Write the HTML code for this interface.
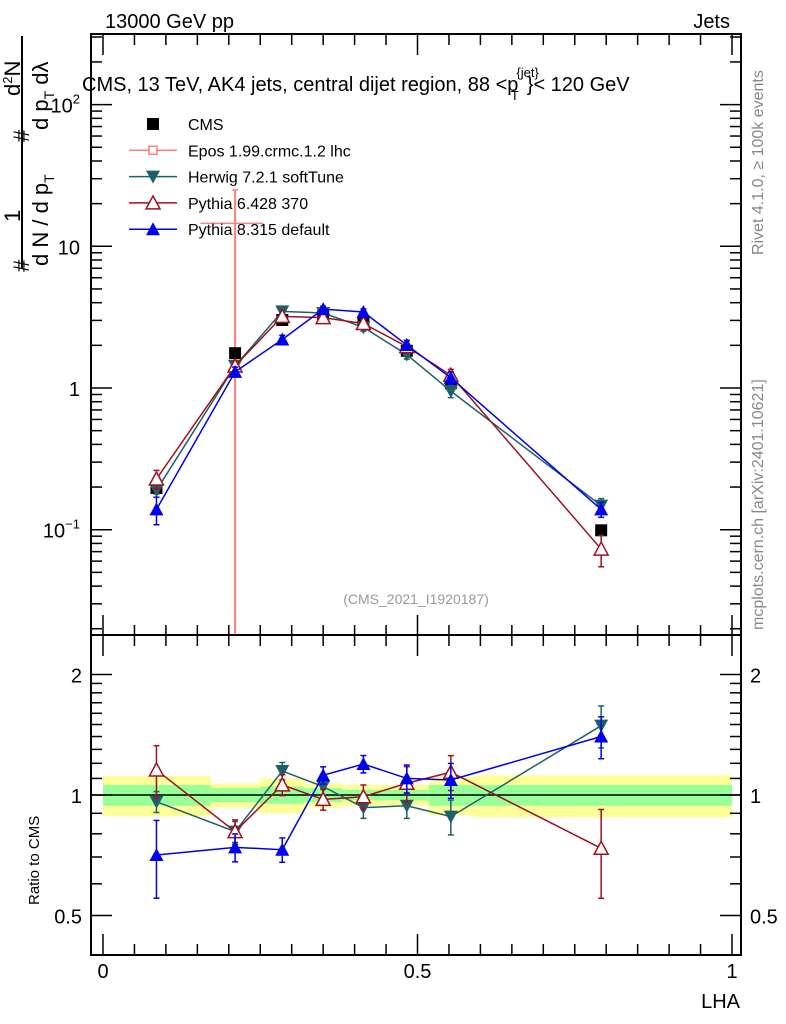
<!DOCTYPE html>
<html><head><meta charset="utf-8"><style>
html,body{margin:0;padding:0;background:#fff}
svg{display:block;font-family:"Liberation Sans",sans-serif}
</style></head><body>
<svg id="chart" width="786" height="1024" viewBox="0 0 786 1024">
<g id="bands"></g>
<g id="ratio-line"></g>
<g id="axes"></g>
<g id="series"></g>
<rect x="91" y="34" width="650" height="601" fill="none" stroke="#000" stroke-width="2"/>
<rect x="91" y="635" width="650" height="320" fill="none" stroke="#000" stroke-width="2"/>
<text x="105" y="28" font-size="20">13000 GeV pp</text>
<text x="730" y="28" font-size="20" text-anchor="end">Jets</text>
<text x="82" y="91" font-size="20">CMS, 13 TeV, AK4 jets, central dijet region, 88 &lt;p<tspan font-size="13" dy="-14" dx="-2">{jet}</tspan><tspan font-size="13" dx="-28" dy="23">T</tspan><tspan dy="-9" dx="8">}&lt; 120 GeV</tspan></text>
<text transform="translate(763,255) rotate(-90)" font-size="16" fill="#888">Rivet 4.1.0, ≥ 100k events</text>
<text transform="translate(763,630) rotate(-90)" font-size="16" fill="#888">mcplots.cern.ch [arXiv:2401.10621]</text>
<text x="416" y="604" font-size="14" fill="#999" text-anchor="middle">(CMS_2021_I1920187)</text>
<g font-size="22">
<text transform="translate(29,272) rotate(-90)">#</text>
<text transform="translate(20,222) rotate(-90)">1</text>
<line x1="22" y1="36" x2="22" y2="268" stroke="#000" stroke-width="2"/>
<text transform="translate(48,266) rotate(-90)">d N / d p<tspan font-size="14" dy="6">T</tspan></text>
<text transform="translate(29,142) rotate(-90)">#</text>
<text transform="translate(20,96) rotate(-90)">d<tspan font-size="13" dy="-8">2</tspan><tspan dy="8">N</tspan></text>
<text transform="translate(48,130) rotate(-90)">d p<tspan font-size="14" dy="6">T</tspan><tspan dy="-6"> d</tspan>λ</text>
</g>
<text transform="translate(39,905) rotate(-90)" font-size="15">Ratio to CMS</text>
<text x="740" y="1008" font-size="20" text-anchor="end">LHA</text>
<g id="legend"></g>
</svg>
<script>
const xVals=[0.085,0.21,0.285,0.35,0.414,0.483,0.553,0.792];
const cmsVals=[0.197,1.76,3.02,3.22,2.88,1.83,1.08,0.099];
const herwigVals=[0.19,1.43,3.47,3.38,2.68,1.72,0.95,0.148];
const pythia6Vals=[0.228,1.43,3.2,3.14,2.85,1.96,1.23,0.073];
const pythia8Vals=[0.139,1.30,2.2,3.6,3.44,2.01,1.18,0.139];
const herwigErr=[0.06,0.06,0.05,0.05,0.06,0.07,0.1,0.12];
const pythia6Err=[0.15,0.07,0.06,0.06,0.07,0.1,0.1,0.25];
const pythia8Err=[0.22,0.08,0.07,0.05,0.05,0.08,0.1,0.12];
const herwigRatio=[0.962,0.81,1.148,1.05,0.93,0.94,0.883,1.49];
const pythia6Ratio=[1.155,0.81,1.06,0.975,0.99,1.07,1.14,0.736];
const pythia8Ratio=[0.708,0.74,0.73,1.12,1.195,1.10,1.09,1.40];
const eposX=0.21, eposVal=14.5, eposHi=25, eposXLo=0.155, eposXHi=0.255;
const binEdges=[0,0.171,0.249,0.32,0.38,0.518,0.588,1.0];
const bandYellow=[0.115,0.07,0.1,0.07,0.06,0.11,0.12];
const bandGreen=[0.06,0.04,0.05,0.04,0.03,0.06,0.06];
const xTicks=[0,0.5,1];
const xTickLabels=["0","0.5","1"];
const ratioTicks=[0.5,1,2];
const ratioTickLabels=["0.5","1","2"];

const NS="http://www.w3.org/2000/svg";
const X=v=>103+v*629;
const Y=v=>388-141.7*Math.log10(v);
const R=v=>795-120.5*Math.log2(v);
function mk(p,tag,a){const e=document.createElementNS(NS,tag);for(const k in a)e.setAttribute(k,a[k]);p.appendChild(e);return e;}
const svg=document.getElementById('chart');
const bands=document.getElementById('bands'),axes=document.getElementById('axes'),ser=document.getElementById('series');

for(let i=0;i<bandYellow.length;i++){
 const x0=X(binEdges[i]),x1=X(binEdges[i+1]);
 let r=mk(bands,'rect',{x:x0,y:R(1+bandYellow[i]),width:x1-x0,height:R(1-bandYellow[i])-R(1+bandYellow[i]),fill:'#ffff99'});
 
 
 let g=mk(bands,'rect',{x:x0,y:R(1+bandGreen[i]),width:x1-x0,height:R(1-bandGreen[i])-R(1+bandGreen[i]),fill:'#99ff99'});
 
 
}
const rl=mk(document.getElementById('ratio-line'),'line',{x1:91,x2:741,y1:R(1),y2:R(1),stroke:'#000','stroke-width':1.5});

for(let d=-2;d<=2;d++){for(let m=1;m<10;m++){const v=m*Math.pow(10,d);const y=Y(v);if(y<35||y>634)continue;const L=m==1?20:10;
 mk(axes,'line',{x1:92,x2:92+L,y1:y,y2:y,stroke:'#000','stroke-width':1.5});
 mk(axes,'line',{x1:740-L,x2:740,y1:y,y2:y,stroke:'#000','stroke-width':1.5});}}
const yl=[[0.1,'10','−1'],[1,'1',''],[10,'10',''],[100,'10','2']];
yl.forEach(t=>{const e=mk(axes,'text',{x:80,y:Y(t[0])+8,'font-size':20,'text-anchor':'end'});
 e.textContent=t[1];
 if(t[2]){const s=mk(e,'tspan',{'font-size':13,dy:-9});s.textContent=t[2];}
 
 });
[0.5,0.6,0.7,0.8,0.9,1,1.1,1.2,1.3,1.4,1.5,1.6,1.7,1.8,1.9,2].forEach(v=>{const y=R(v);const L=(v==0.5||v==1||v==2)?20:10;
 mk(axes,'line',{x1:92,x2:92+L,y1:y,y2:y,stroke:'#000','stroke-width':1.5});
 mk(axes,'line',{x1:740-L,x2:740,y1:y,y2:y,stroke:'#000','stroke-width':1.5});});
ratioTicks.forEach((v,i)=>{
 const a=mk(axes,'text',{x:82,y:R(v)+8,'font-size':20,'text-anchor':'end'});a.textContent=ratioTickLabels[i];
 
 
 const b=mk(axes,'text',{x:750,y:R(v)+8,'font-size':20});b.textContent=ratioTickLabels[i];
 
 });
for(let k=0;k<=20;k++){const v=k*0.05;const x=X(v);const L=(k%10==0)?20:10;
 [[35,1],[635,-1],[636,1],[954,-1]].forEach(p=>mk(axes,'line',{x1:x,x2:x,y1:p[0],y2:p[0]+p[1]*L,stroke:'#000','stroke-width':1.5}));}
xTicks.forEach((v,i)=>{const t=mk(axes,'text',{x:X(v),y:978,'font-size':20,'text-anchor':'middle'});t.textContent=xTickLabels[i];
 
 });

function marker(g,type,x,y,col){
 if(type=='sq')return mk(g,'rect',{x:x-6,y:y-6,width:12,height:12,fill:col});
 if(type=='down')return mk(g,'polygon',{points:`${x-7},${y-6} ${x+7},${y-6} ${x},${y+7}`,fill:col});
 if(type=='up')return mk(g,'polygon',{points:`${x-7},${y+6} ${x+7},${y+6} ${x},${y-7}`,fill:col});
 if(type=='open')return mk(g,'polygon',{points:`${x-7},${y+6} ${x+7},${y+6} ${x},${y-7}`,fill:'#fff','stroke':col,'stroke-width':1.5});
}
function drawSeries(name,vals,errs,ratio,col,type){
 const g=mk(ser,'g',{});
 
 
 mk(g,'polyline',{points:xVals.map((x,i)=>X(x)+','+Y(vals[i])).join(' '),fill:'none',stroke:col,'stroke-width':1.5});
 mk(g,'polyline',{points:xVals.map((x,i)=>X(x)+','+R(ratio[i])).join(' '),fill:'none',stroke:col,'stroke-width':1.5});
 xVals.forEach((x,i)=>{
  const px=X(x);
  [[Y(vals[i]*(1+errs[i])),Y(vals[i]*(1-errs[i])),Y(vals[i])],[R(ratio[i]*(1+errs[i])),R(ratio[i]*(1-errs[i])),R(ratio[i])]].forEach(e=>{
   mk(g,'line',{x1:px,x2:px,y1:e[0],y2:e[1],stroke:col,'stroke-width':1.5});
   mk(g,'line',{x1:px-3,x2:px+3,y1:e[0],y2:e[0],stroke:col,'stroke-width':1.5});
   mk(g,'line',{x1:px-3,x2:px+3,y1:e[1],y2:e[1],stroke:col,'stroke-width':1.5});
   const m=marker(g,type,px,e[2],col);
   
   
  });
 });
}
const eg=mk(ser,'g',{});


mk(eg,'line',{x1:X(eposX),x2:X(eposX),y1:Y(eposHi),y2:634,stroke:'#ff7f7f','stroke-width':2});
mk(eg,'line',{x1:X(eposXLo),x2:X(eposXHi),y1:Y(eposVal),y2:Y(eposVal),stroke:'#ff7f7f','stroke-width':1.5});
mk(eg,'line',{x1:X(eposX)-3,x2:X(eposX)+3,y1:Y(eposHi),y2:Y(eposHi),stroke:'#ff7f7f','stroke-width':1.5});
const cg=mk(ser,'g',{});


xVals.forEach((x,i)=>{const m=marker(cg,'sq',X(x),Y(cmsVals[i]),'#000');
 
 });
drawSeries('herwig',herwigVals,herwigErr,herwigRatio,'#1f6068','down');
drawSeries('pythia6',pythia6Vals,pythia6Err,pythia6Ratio,'#a01020','open');
drawSeries('pythia8',pythia8Vals,pythia8Err,pythia8Ratio,'#0000ee','up');

const lg=document.getElementById('legend');
const leg=[['CMS','#000','sq'],['Epos 1.99.crmc.1.2 lhc','#ff7f7f','epos'],['Herwig 7.2.1 softTune','#1f6068','down'],['Pythia 6.428 370','#a01020','open'],['Pythia 8.315 default','#0000ee','up']];
leg.forEach((l,i)=>{const y=124+i*26.3;const g=mk(lg,'g',{});
 
 
 if(l[2]!='sq')mk(g,'line',{x1:129,x2:177,y1:y,y2:y,stroke:l[1],'stroke-width':1.5});
 if(l[2]=='epos')mk(g,'rect',{x:149,y:y-4,width:8,height:8,fill:'#fff',stroke:l[1],'stroke-width':1.5});
 else marker(g,l[2],153,y,l[1]);
 const t=mk(g,'text',{x:188,y:y+6,'font-size':16});t.textContent=l[0];});
</script>
</body></html>
